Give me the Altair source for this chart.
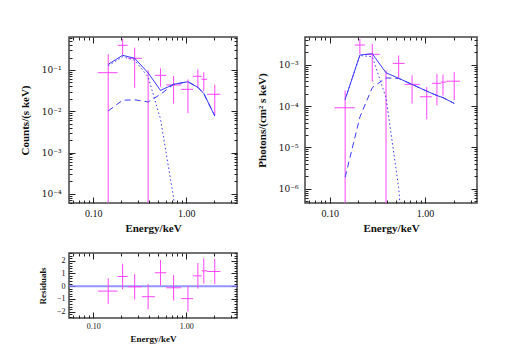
import altair as alt
import pandas as pd
import math

# ---------------- data ----------------
E_lo = [0.112, 0.183, 0.235, 0.333, 0.46, 0.61, 0.88, 1.18, 1.46, 1.67]
E_hi = [0.183, 0.235, 0.333, 0.46, 0.61, 0.88, 1.18, 1.46, 1.67, 2.32]
E_mid = [0.145, 0.207, 0.279, 0.389, 0.528, 0.73, 1.04, 1.33, 1.54, 2.02]

counts = [0.086, 0.396, 0.192, 2e-5, 0.0744, 0.0434, 0.034, 0.0703, 0.0596, 0.0258]
counts_err = [0.154, 0.17, 0.155, 0.098, 0.035, 0.028, 0.025, 0.034, 0.029, 0.018]
cmodel_total = [0.137, 0.227, 0.192, 0.085, 0.032, 0.045, 0.052, 0.038, 0.027, 0.0077]
cmodel_pl = [0.0102, 0.0185, 0.019, 0.0168, 0.0258, 0.0449, 0.052, 0.038, 0.027, 0.0077]
cmodel_bb = [0.127, 0.209, 0.173, 0.068, 0.0065, 8e-5, 1e-7]

photons = [9.1e-5, 3.0e-3, 1.79e-3, 1e-8, 1.08e-3, 3.35e-4, 1.68e-4, 3.55e-4, 3.8e-4, 4.0e-4]
photons_err = [1.5e-4, 1.2e-3, 1.4e-3, 7.3e-4, 6e-4, 2.2e-4, 1.2e-4, 2.5e-4, 2.0e-4, 2.6e-4]
pmodel_total = [1.45e-4, 1.72e-3, 1.85e-3, 6.4e-4, 4.7e-4, 3.35e-4, 2.3e-4, 1.8e-4, 1.6e-4, 1.16e-4]
pmodel_pl = [1.9e-6, 5.4e-5, 2.8e-4, 4.8e-4, 4.68e-4, 3.34e-4, 2.3e-4, 1.8e-4, 1.6e-4, 1.16e-4]
pmodel_bb = [1.43e-4, 1.67e-3, 1.57e-3, 1.6e-4, 1.05e-6, 1e-10]

resid = [-0.39, 0.76, -0.05, -0.83, 1.05, -0.13, -0.98, 0.81, 1.2, 1.15]
resid_err = [1.0, 1.0, 1.0, 1.0, 1.0, 1.0, 1.0, 1.0, 1.0, 1.0]

x_major = [0.1, 1.0]
x_minor = [0.06, 0.07, 0.08, 0.09, 0.2, 0.3, 0.4, 0.5, 0.6, 0.7, 0.8, 0.9, 2.0, 3.0]
cy_major = [1e-4, 1e-3, 1e-2, 1e-1]
cy_minor = [m * 10.0 ** k for k in range(-5, 0) for m in range(2, 10)]
py_major = [1e-6, 1e-5, 1e-4, 1e-3]
py_minor = [m * 10.0 ** k for k in range(-7, -2) for m in range(2, 10)]
r_major = [-2, -1, 0, 1, 2]
r_minor = [round(-2.4 + 0.2 * i, 1) for i in range(26)]
sup = {-1: "⁻¹", -2: "⁻²", -3: "⁻³", -4: "⁻⁴", -5: "⁻⁵", -6: "⁻⁶"}

PINK = "#ff44ff"
BLUE = "#3a3aff"
FONT = "Liberation Serif"
YFONT = "DejaVu Serif"
XDOM = [0.055, 3.5]


def log_label_expr(vals):
    expr = "''"
    for v in vals:
        k = round(math.log10(v))
        expr = f"abs(datum.value - {v}) < {v * 0.01} ? '10{sup[k]}' : (" + expr + ")"
    return expr


def axis(orient, values, size, labels=False, **kw):
    base = dict(orient=orient, values=values, tickSize=size, offset=-size,
                domain=False, grid=False, labels=labels, ticks=True,
                tickColor="#222", tickWidth=1, labelFont=FONT,
                labelColor="#111", titleFont=FONT, titleColor="#111",
                titleFontWeight="bold", labelFlush=False, labelOverlap=False)
    base.update(kw)
    return alt.Axis(**base)


def panel(vals, errs, tot, pl, bb, ydom, ymaj, ymin, ytitle, w, h,
          ylog=True, lab_size=10, ylab_size=9, title_size=11, xtitle="Energy/keV",
          ylabel_expr=None, ytitle_pad=10, xlab_pad=5, ylab_pad=8,
          resid_line=False):
    df = pd.DataFrame({"lo": E_lo, "hi": E_hi, "mid": E_mid, "val": vals,
                       "err": errs})
    if ylog:
        df["ylo"] = [max(v - e, 1e-12) for v, e in zip(vals, errs)]
    else:
        df["ylo"] = [v - e for v, e in zip(vals, errs)]
    df["yhi"] = [v + e for v, e in zip(vals, errs)]
    xs = alt.Scale(type="log", domain=XDOM, nice=False)
    ys = alt.Scale(type="log" if ylog else "linear", domain=ydom, nice=False,
                   zero=False)
    ymaj_kw = dict(labelFontSize=ylab_size, titleFontSize=title_size,
                   title=ytitle, titlePadding=ytitle_pad, labelPadding=ylab_pad)
    if ylabel_expr:
        ymaj_kw["labelExpr"] = ylabel_expr
        ymaj_kw["labelFont"] = YFONT
    else:
        ymaj_kw["format"] = "d"
    xmaj_kw = dict(labelFontSize=lab_size, titleFontSize=title_size,
                   title=xtitle, format=".2f", labelPadding=xlab_pad,
                   titlePadding=4)

    hbar = alt.Chart(df).mark_rule(color=PINK, strokeWidth=1, clip=True).encode(
        x=alt.X("lo:Q", scale=xs, axis=axis("bottom", x_major, 6, labels=True, **xmaj_kw)),
        x2="hi:Q",
        y=alt.Y("val:Q", scale=ys, axis=axis("left", ymaj, 6, labels=True, **ymaj_kw)),
    )
    vbar = alt.Chart(df).mark_rule(color=PINK, strokeWidth=1, clip=True).encode(
        x=alt.X("mid:Q", scale=xs, axis=axis("bottom", x_minor, 3, title=None)),
        y=alt.Y("ylo:Q", scale=ys, axis=axis("left", ymin, 3, title=None)),
        y2="yhi:Q",
    )
    if resid_line:
        zdf = pd.DataFrame({"z": [0.0]})
        zl = alt.Chart(zdf).mark_rule(color="#7a7aff", strokeWidth=2, opacity=0.8).encode(
            y=alt.Y("z:Q", scale=ys, axis=axis("right", ymaj, 6, title=None)))
        tops = alt.Chart(df).mark_point(opacity=0).encode(
            x=alt.X("mid:Q", scale=xs, axis=axis("top", x_major, 6, title=None)),
            y=alt.Y("val:Q", scale=ys, axis=axis("right", ymin, 3, title=None)))
        tops2 = alt.Chart(df).mark_point(opacity=0).encode(
            x=alt.X("mid:Q", scale=xs, axis=axis("top", x_minor, 3, title=None)),
            y=alt.Y("val:Q", scale=ys, axis=None))
        layers = [zl, hbar, vbar, tops, tops2]
    else:
        mdf = pd.DataFrame({"E": E_mid, "tot": tot, "pl": pl})
        bdf = pd.DataFrame({"E": E_mid[:len(bb)], "bb": bb})
        solid = alt.Chart(mdf).mark_line(color=BLUE, strokeWidth=1, clip=True).encode(
            x=alt.X("E:Q", scale=xs, axis=axis("top", x_major, 6, title=None)),
            y=alt.Y("tot:Q", scale=ys, axis=axis("right", ymaj, 6, title=None)))
        dashed = alt.Chart(mdf).mark_line(color=BLUE, strokeWidth=1, clip=True,
                                          strokeDash=[6, 4]).encode(
            x=alt.X("E:Q", scale=xs, axis=axis("top", x_minor, 3, title=None)),
            y=alt.Y("pl:Q", scale=ys, axis=axis("right", ymin, 3, title=None)))
        dotted = alt.Chart(bdf).mark_line(color=BLUE, strokeWidth=1, clip=True,
                                          strokeDash=[1.5, 2.5]).encode(
            x=alt.X("E:Q", scale=xs, axis=None),
            y=alt.Y("bb:Q", scale=ys, axis=None))
        layers = [hbar, vbar, solid, dashed, dotted]
    return alt.layer(*layers).resolve_axis(x="independent", y="independent").properties(
        width=w, height=h)


left = panel(counts, counts_err, cmodel_total, cmodel_pl, cmodel_bb,
             [6e-5, 0.63], cy_major, cy_minor, "Counts/(s keV)", 168, 166,
             ylabel_expr=log_label_expr(cy_major), ytitle_pad=11)
right = panel(photons, photons_err, pmodel_total, pmodel_pl, pmodel_bb,
              [4.5e-7, 4.7e-3], py_major, py_minor, "Photons/(cm² s keV)", 172, 166,
              ylabel_expr=log_label_expr(py_major), ylab_pad=7, ytitle_pad=11)
res = panel(resid, resid_err, None, None, None, [-2.5, 2.6], r_major, r_minor,
            "Residuals", 168, 65, ylog=False, lab_size=8, ylab_size=8, title_size=9,
            ytitle_pad=9, xlab_pad=4, ylab_pad=4, resid_line=True)

chart = alt.concat(left, right, res, columns=2,
                   spacing={"row": 50, "column": 68}, bounds="flush").properties(
    padding={"left": 10, "top": 27, "right": 5, "bottom": 5},
    background="white",
).configure_view(stroke="#444", strokeWidth=1.5)

chart.save("out.html", embed_options={"renderer": "svg", "actions": False})
